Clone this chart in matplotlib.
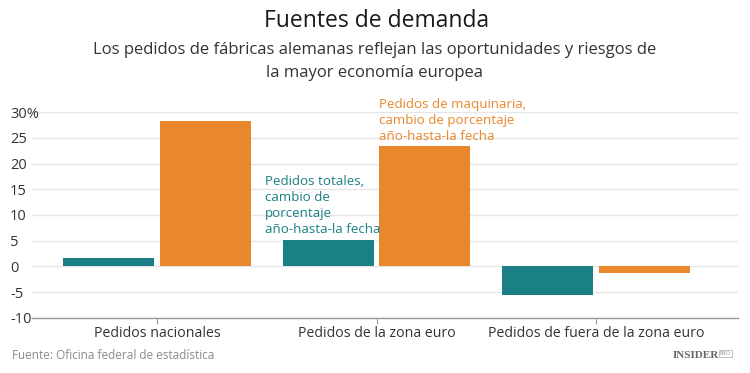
import matplotlib.pyplot as plt
import numpy as np

plt.rcParams['font.family'] = ['Open Sans', 'DejaVu Sans']

categories = ['Pedidos nacionales', 'Pedidos de la zona euro', 'Pedidos de fuera de la zona euro']
totales = [1.7, 5.2, -5.6]
maquinaria = [28.2, 23.4, -1.2]
yticks = [-10, -5, 0, 5, 10, 15, 20, 25, 30]
ytick_labels = ['-10', '-5', '0', '5', '10', '15', '20', '25', '30%']

teal = '#1b7f86'
orange = '#e8872b'

fig = plt.figure(figsize=(7.5, 3.73), dpi=100)
ax = fig.add_axes([0.0427, 0.1475, 0.9413, 0.5522])

x = np.arange(len(categories))
w = 0.415
off = 0.22
ax.bar(x - off, totales, w, color=teal, zorder=3)
ax.bar(x + off, maquinaria, w, color=orange, zorder=3)

ax.set_xlim(-0.57, 2.647)
ax.set_ylim(-10, 30)
ax.set_yticks(yticks)
ax.set_yticklabels(ytick_labels, fontsize=10.5, color='#333333', ha='left')
ax.tick_params(axis='y', length=0, pad=15.8)
ax.set_xticks(x)
ax.set_xticklabels(categories, fontsize=10.2, color='#333333')
ax.tick_params(axis='x', length=4, width=0.8, color='#999999', pad=2)
ax.grid(axis='y', color='#e6e6e6', lw=1, zorder=0)
for s in ['top', 'right', 'left']:
    ax.spines[s].set_visible(False)
ax.spines['bottom'].set_color('#999999')
ax.spines['bottom'].set_linewidth(1)
ax.spines['bottom'].set_zorder(4)

# annotations
ax.text(x[1] - off - w / 2 - 0.08, 5.2 + 0.8, 'Pedidos totales,\ncambio de\nporcentaje\naño-hasta-la fecha',
        color=teal, fontsize=9.6, ha='left', va='bottom', linespacing=1.3, zorder=5)
ax.text(x[1] + off - w / 2, 23.4 + 0.5, 'Pedidos de maquinaria,\ncambio de porcentaje\naño-hasta-la fecha',
        color=orange, fontsize=9.6, ha='left', va='bottom', linespacing=1.3, zorder=5)

fig.text(0.502, 0.943, 'Fuentes de demanda', fontsize=16.5, color='#1a1a1a', ha='center', va='center')
fig.text(0.499, 0.887, 'Los pedidos de fábricas alemanas reflejan las oportunidades y riesgos de\nla mayor economía europea',
         fontsize=12, color='#333333', ha='center', va='top', linespacing=1.6)
fig.text(0.016, 0.048, 'Fuente: Oficina federal de estadística', fontsize=8.5, color='#8a8a8a', ha='left', va='center')
fig.text(0.958, 0.048, 'INSIDER', fontsize=8, color='#666666', ha='right', va='center',
         family='Liberation Serif', weight='bold')
fig.text(0.960, 0.052, 'PRO', fontsize=4, color='#888888', ha='left', va='center',
         family='Liberation Serif', bbox=dict(boxstyle='square,pad=0.15', fc='none', ec='#aaaaaa', lw=0.5))

fig.savefig('out.png', dpi=100)
